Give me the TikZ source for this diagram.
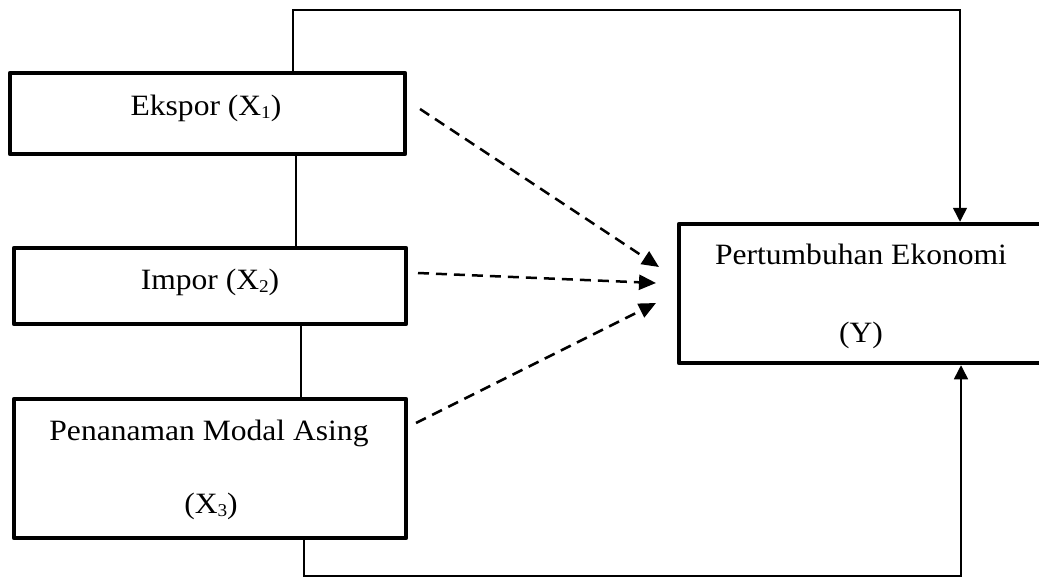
\documentclass[tikz,border=0pt]{standalone}
\usepackage{fontspec}
\setmainfont{Liberation Serif}[FakeStretch=1.07]
\usetikzlibrary{arrows.meta}
\newcommand\subx[1]{\raisebox{-3pt}{\fontsize{18}{18}\selectfont #1}}
\begin{document}
\begin{tikzpicture}[x=1pt,y=-1pt,
  box/.style={draw, line width=4.5pt, line join=round, inner sep=0pt},
  lbl/.style={anchor=base, inner sep=0pt, font=\fontsize{29.5}{35}\selectfont},
  link/.style={line width=1.5pt},
  solidarrow/.style={line width=1.5pt, -{Triangle[length=14pt,width=14pt]}},
  dasharrow/.style={line width=2.5pt, dash pattern=on 11pt off 7pt, -{Triangle[length=17pt,width=15pt]}}]
\useasboundingbox (0,0) rectangle (1039,579);
% boxes
\node[box, minimum width=395pt, minimum height=81pt] (ekspor) at (207.5,113.5) {};
\node[box, minimum width=392pt, minimum height=76pt] (impor) at (210,286) {};
\node[box, minimum width=392pt, minimum height=139pt] (pma) at (210,468.5) {};
\node[box, minimum width=363pt, minimum height=139pt] (y) at (860.5,293.5) {};
% texts
\node[lbl] (tekspor) at (206,115) {Ekspor (X\subx{1})};
\node[lbl] (timpor) at (210,289) {Impor (X\subx{2})};
\node[lbl] (tpma1) at (209,440) {Penanaman Modal Asing};
\node[lbl] (tpma2) at (211,513) {(X\subx{3})};
\node[lbl] (ty1) at (861,264) {Pertumbuhan Ekonomi};
\node[lbl] (ty2) at (861,342) {(Y)};
% helper coordinates
\coordinate (topL) at (293,10);
\coordinate (topR) at (960,10);
\coordinate (botL) at (304,576);
\coordinate (botR) at (961,576);
\coordinate (v1) at (296,0);
\coordinate (v2) at (301,0);
% solid connectors
\draw[solidarrow] (ekspor.north -| topL) -- (topL) -- (topR) -- (y.north -| topR);
\draw[solidarrow] (pma.south -| botL) -- (botL) -- (botR) -- (y.south -| botR);
\draw[link] (ekspor.south -| v1) -- (impor.north -| v1);
\draw[link] (impor.south -| v2) -- (pma.north -| v2);
% dashed arrows
\coordinate (s1) at (420,109);
\coordinate (e1) at (659,267);
\coordinate (s2) at (418,273);
\coordinate (e2) at (656,283);
\coordinate (s3) at (416,423);
\coordinate (e3) at (656,303);
\draw[dasharrow] (s1) -- (e1);
\draw[dasharrow] (s2) -- (e2);
\draw[dasharrow] (s3) -- (e3);
\end{tikzpicture}
\end{document}
